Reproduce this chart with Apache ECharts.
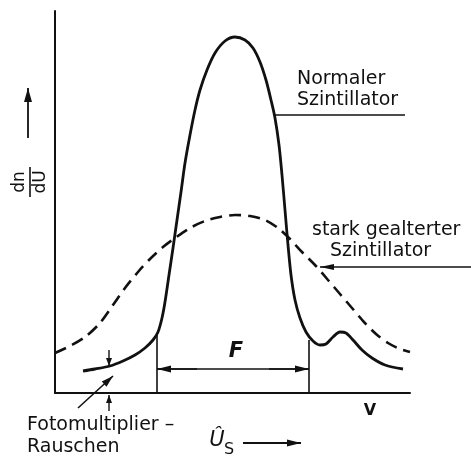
<!DOCTYPE html>
<html>
<head>
<meta charset="utf-8">
<script src="https://cdn.jsdelivr.net/npm/echarts@6/dist/echarts.min.js"></script>
<style>html,body{margin:0;padding:0;background:#fff}#c{width:471px;height:459px}</style>
</head>
<body>
<div id="c"></div>
<script>
// Normal scintillator pulse height spectrum (x, y) in arbitrary units
const normalX = [28,40,55,68,80,90,98,103,107,110,114,118,122,126,130,135,140,145,152,160,170,180,190,198,205,211,216,220,224,227,230,233,236,240,245,251,258,265,271,278,285,291,298,307,317,330,348];
const normalY = [22,24,27,32,38,45,53,61,75,91,118,145,173,201,230,258,283,303,323,340,352,356,353,345,331,313,293,275,248,218,183,148,118,93,75,61,52,48,49,56,61,60,53,43,35,28,24];
// Strongly aged scintillator
const agedX = [0,15,30,45,58,70,83,95,108,120,135,150,165,180,195,210,223,235,247,260,273,285,297,309,321,333,345,355];
const agedY = [40,47,56,70,88,105,121,134,146,155,165,172,176,178,177,173,165,154,141,128,113,99,85,71,59,50,44,41];
// FWHM boundaries F
const fLeft = 102, fRight = 254, fLevel = 24, fLeftTop = 58, fRightTop = 53;
const normal = normalX.map((x,i)=>[x,normalY[i]]);
const aged = agedX.map((x,i)=>[x,agedY[i]]);
const FONT = '"DejaVu Sans", sans-serif';

const chart = echarts.init(document.getElementById('c'));
chart.setOption({
  animation:false,
  grid:{left:55,right:61,top:11,bottom:66},
  xAxis:{type:'value',min:0,max:355,axisLine:{show:true,lineStyle:{color:'#111',width:2}},axisTick:{show:false},axisLabel:{show:false},splitLine:{show:false}},
  yAxis:{type:'value',min:0,max:382,axisLine:{show:true,lineStyle:{color:'#111',width:2}},axisTick:{show:false},axisLabel:{show:false},splitLine:{show:false}},
  series:[
    {type:'line',data:normal,smooth:0.3,symbol:'none',lineStyle:{color:'#111',width:2.8}},
    {type:'line',data:aged,smooth:0.3,symbol:'none',lineStyle:{color:'#111',width:2.6,type:[12,7]}},
    {type:'line',data:[[fLeft,0],[fLeft,fLeftTop]],symbol:'none',lineStyle:{color:'#111',width:1.6}},
    {type:'line',data:[[fRight,0],[fRight,fRightTop]],symbol:'none',lineStyle:{color:'#111',width:1.6}},
    {type:'line',data:[[fLeft,fLevel],[fRight,fLevel]],symbol:'none',lineStyle:{color:'#111',width:1.6}}
  ]
});

const P = (x,y)=>chart.convertToPixel({gridIndex:0},[x,y]);
function arrowHead(tip, from, len, w){
  const dx=tip[0]-from[0], dy=tip[1]-from[1], d=Math.hypot(dx,dy), ux=dx/d, uy=dy/d;
  const bx=tip[0]-ux*len, by=tip[1]-uy*len;
  return {type:'polygon',shape:{points:[tip,[bx-uy*w/2,by+ux*w/2],[bx+uy*w/2,by-ux*w/2]]},style:{fill:'#111'}};
}
function arrow(from, tip, len, w, lw){
  return [{type:'line',shape:{x1:from[0],y1:from[1],x2:tip[0],y2:tip[1]},style:{stroke:'#111',lineWidth:lw||1.6}}, arrowHead(tip,from,len,w)];
}
function txt(s,x,y,size,extra){
  return Object.assign({type:'text',x:x,y:y,style:Object.assign({text:s,font:size+'px '+FONT,fill:'#111',textVerticalAlign:'middle'},extra||{})});
}
const fl=P(fLeft,fLevel), fr=P(fRight,fLevel);
const g=[];
g.push(...arrow([fl[0]+40,fl[1]],fl,14,7), ...arrow([fr[0]-40,fr[1]],fr,14,7));
// leader lines
const nL=P(220,278), nR=P(350,278);
g.push({type:'line',shape:{x1:nL[0],y1:nL[1],x2:nR[0],y2:nR[1]},style:{stroke:'#111',lineWidth:1.6}});
const aL=P(265,126);
g.push(...arrow([471,aL[1]],aL,14,6));
// noise arrows
const nx=P(54,0)[0];
g.push(...arrow([nx,350],[nx,366],8,6,1.4), ...arrow([nx,411],[nx,395],8,6,1.4));
g.push(...arrow([78,408],[113,376],12,7,1.6));
// axis arrows
g.push(...arrow([28,138],[28,88],14,8,1.8));
g.push(...arrow([243,443],[301,443],14,7,1.8));
// texts
g.push(txt('Normaler',297,79,19), txt('Szintillator',297,100,19));
g.push(txt('stark gealterter',312,230,19), txt('Szintillator',330,251,19));
g.push(txt('F',236,352,21,{textAlign:'center',fontStyle:'italic',font:'italic bold 21px '+FONT}));
g.push(txt('Fotomultiplier –',27,425,19), txt('Rauschen',27,447,19));
g.push(txt('Û',217,441,21,{textAlign:'center',font:'italic 21px '+FONT}));
g.push(txt('S',229,450,16,{textAlign:'center'}));
g.push(txt('V',370,411,16,{textAlign:'center',font:'bold 16px '+FONT}));
// dn/dU rotated
g.push({type:'text',x:20,y:182,rotation:Math.PI/2,style:{text:'dn',font:'17px '+FONT,fill:'#111',textAlign:'center',textVerticalAlign:'middle'}});
g.push({type:'text',x:41,y:182,rotation:Math.PI/2,style:{text:'dU',font:'17px '+FONT,fill:'#111',textAlign:'center',textVerticalAlign:'middle'}});
g.push({type:'line',shape:{x1:30,y1:167,x2:30,y2:197},style:{stroke:'#111',lineWidth:1.6}});
chart.setOption({graphic:g});
</script>
</body>
</html>
